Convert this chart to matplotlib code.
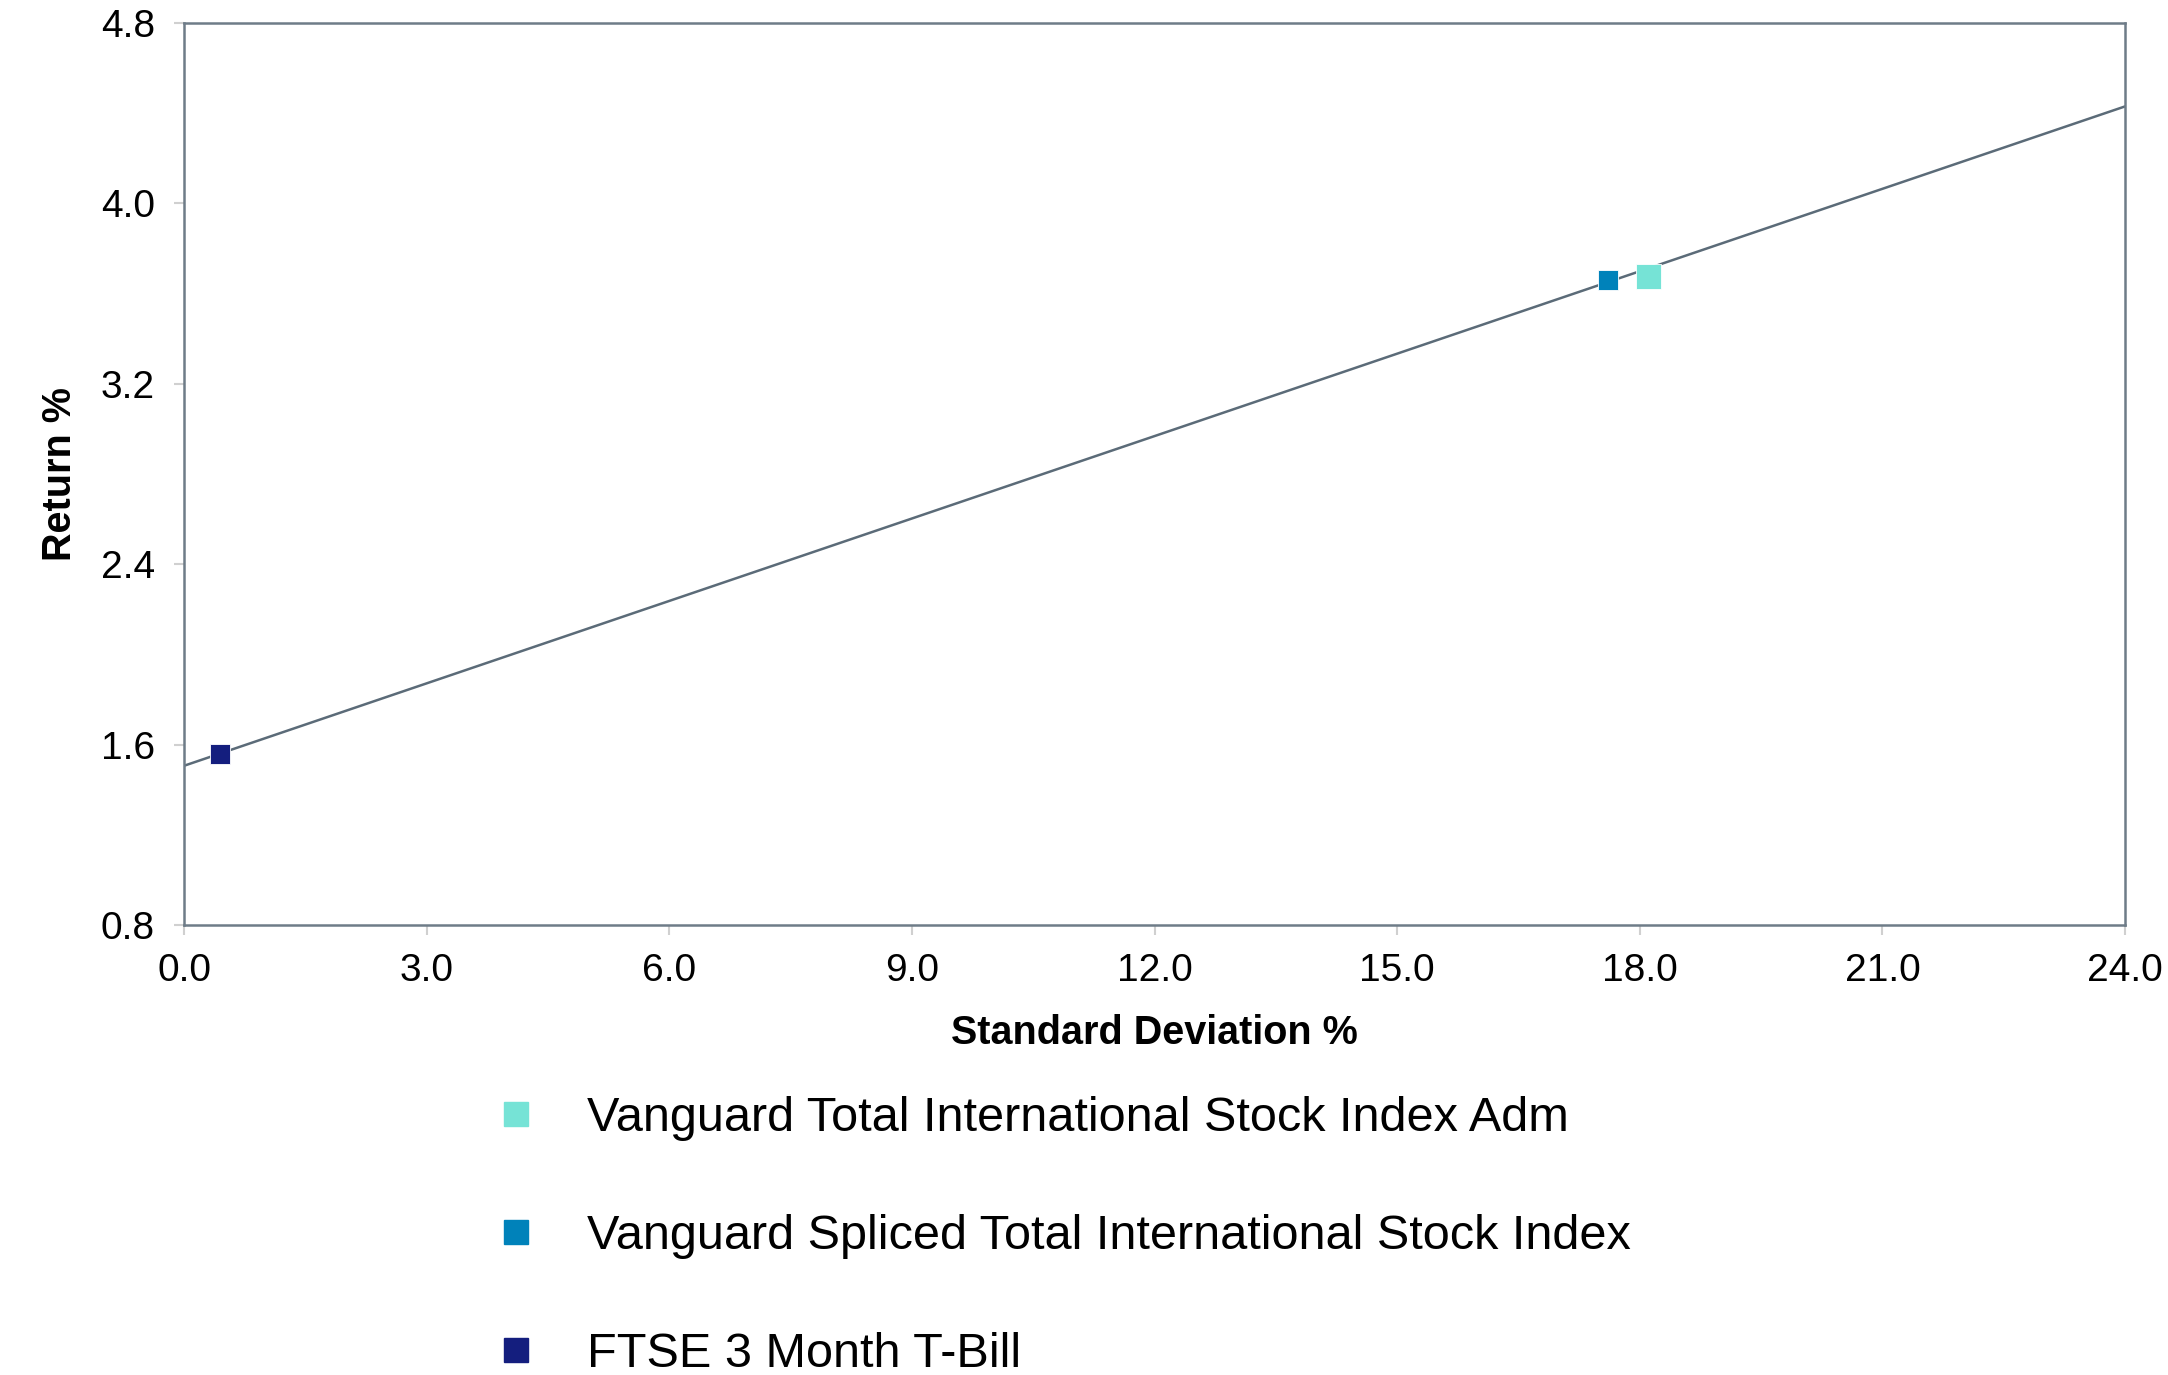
# Risk / return scatter with capital market line

import matplotlib
matplotlib.use('Agg')
import matplotlib.pyplot as plt
from matplotlib.lines import Line2D

plt.rcParams['font.family'] = ['Liberation Sans', 'DejaVu Sans']

names = ['Vanguard Total International Stock Index Adm',
         'Vanguard Spliced Total International Stock Index',
         'FTSE 3 Month T-Bill']
std_dev = [18.10, 17.61, 0.44]
returns = [3.68, 3.66, 1.56]
colors = ['#76E3D6', '#0082BA', '#141E7E']
sizes = [18, 15, 15]

line_x = [0.0, 24.0]
line_y = [1.506, 4.43]

x_ticks = [0.0, 3.0, 6.0, 9.0, 12.0, 15.0, 18.0, 21.0, 24.0]
y_ticks = [0.8, 1.6, 2.4, 3.2, 4.0, 4.8]

fig = plt.figure(figsize=(21.68, 13.75), dpi=100)
ax = fig.add_axes([0.0849, 0.3273, 0.8953, 0.656])

ax.plot(line_x, line_y, color='#5B6B78', lw=1.8, zorder=2)
for i in range(len(names)):
    ax.plot(std_dev[i], returns[i], marker='s', ms=sizes[i], color=colors[i],
            mec='white', mew=0.6, linestyle='none', zorder=3)

ax.set_xlim(0, 24)
ax.set_ylim(0.8, 4.8)
ax.set_xticks(x_ticks)
ax.set_xticklabels(['%.1f' % v for v in x_ticks])
ax.set_yticks(y_ticks)
ax.set_yticklabels(['%.1f' % v for v in y_ticks])
ax.tick_params(axis='both', labelsize=28, colors='#D0D0D0', labelcolor='black',
               length=7, width=1.5, direction='out')
ax.tick_params(axis='x', pad=13)
ax.tick_params(axis='y', pad=14)
for s in ax.spines.values():
    s.set_color('#6E7C88')
    s.set_linewidth(1.8)

ax.set_xlabel('Standard Deviation %', fontsize=28.5, fontweight='bold', labelpad=18)
ax.set_ylabel('Return %', fontsize=28.5, fontweight='bold', labelpad=16)

handles = [Line2D([], [], marker='s', ms=17, color=c, linestyle='none') for c in colors]
fig.legend(handles, names, loc='upper left', bbox_to_anchor=(0.227, 0.2027),
           frameon=False, fontsize=35, labelspacing=1.5, handletextpad=0.95,
           handlelength=1.0, borderaxespad=0, borderpad=0)

fig.savefig('out.png', dpi=100)
